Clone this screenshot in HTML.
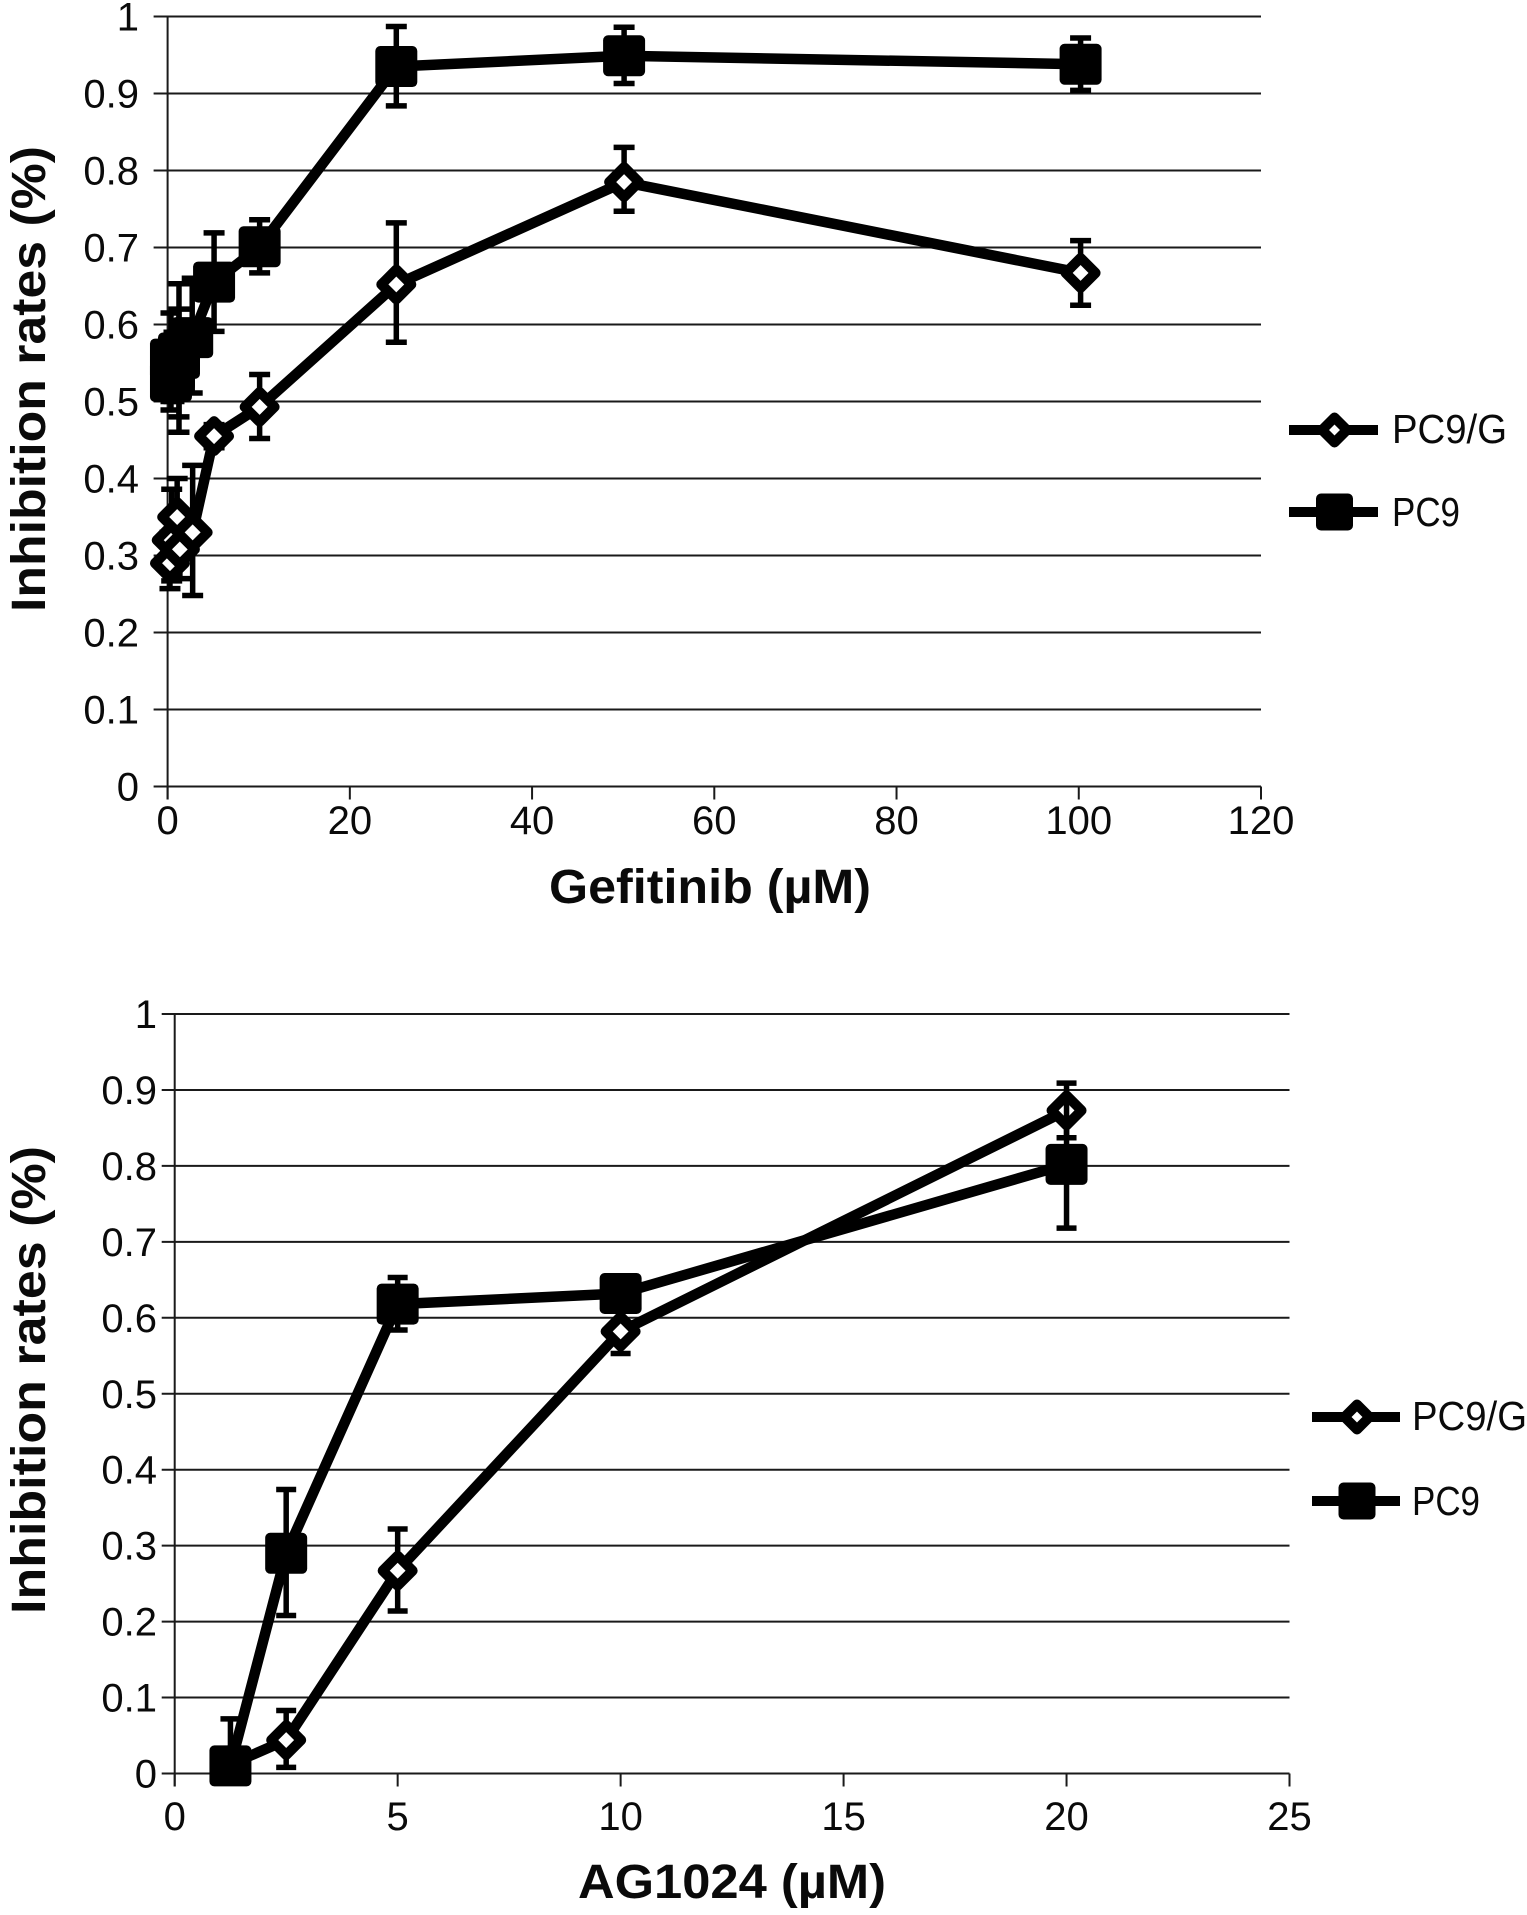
<!DOCTYPE html>
<html lang="en">
<head>
<meta charset="utf-8">
<title>Inhibition rates for Gefitinib and AG1024</title>
<style>
html,body{margin:0;padding:0;background:#fff;}
svg{display:block;}
text{font-family:"Liberation Sans",sans-serif;fill:#0a0a0a;}
</style>
</head>
<body>
<svg id="figure" width="1527" height="1915" viewBox="0 0 1527 1915" xmlns="http://www.w3.org/2000/svg">
  <rect x="0" y="0" width="1527" height="1915" fill="#fff"></rect>
  <g id="chart-a"></g>
  <g id="chart-b"></g>
</svg>
<script>
// shared tick labels
const yTickLabels = [0, 0.1, 0.2, 0.3, 0.4, 0.5, 0.6, 0.7, 0.8, 0.9, 1];
const seriesNames = ['PC9/G', 'PC9'];

// Gefitinib chart
const gefXTicks = [0, 20, 40, 60, 80, 100, 120];
const gefGX = [0.26, 0.45, 1.05, 1.35, 2.75, 5.1, 10.1, 25.1, 50.1, 100.2];
const gefGY = [0.29, 0.32, 0.35, 0.308, 0.33, 0.455, 0.493, 0.652, 0.785, 0.667];
const gefGUpper = [0.33, 0.386, 0.4, 0.35, 0.417, 0.47, 0.535, 0.732, 0.83, 0.709];
const gefGLower = [0.257, 0.267, 0.3, 0.27, 0.248, 0.44, 0.452, 0.577, 0.747, 0.625];
const gefPX = [0.37, 0.37, 0.7, 1.25, 1.25, 2.7, 5.1, 10.1, 25.1, 50.1, 100.2];
const gefPY = [0.526, 0.555, 0.54, 0.563, 0.556, 0.583, 0.655, 0.701, 0.935, 0.949, 0.938];
const gefPUpper = [0.57, 0.615, 0.59, 0.653, 0.62, 0.66, 0.719, 0.736, 0.987, 0.986, 0.972];
const gefPLower = [0.489, 0.5, 0.5, 0.48, 0.46, 0.511, 0.591, 0.667, 0.884, 0.913, 0.904];

// AG1024 chart
const agXTicks = [0, 5, 10, 15, 20, 25];
const agX = [1.25, 2.5, 5, 10, 20];
const agGY = [0.012, 0.044, 0.267, 0.582, 0.873];
const agGUpper = [0.03, 0.083, 0.322, 0.61, 0.909];
const agGLower = [0, 0.008, 0.214, 0.553, 0.837];
const agPY = [0.01, 0.29, 0.618, 0.632, 0.802];
const agPUpper = [0.072, 0.374, 0.653, 0.65, 0.885];
const agPLower = [0, 0.208, 0.584, 0.61, 0.718];

const NS = 'http://www.w3.org/2000/svg';

function make(tag, attrs, parent) {
  const el = document.createElementNS(NS, tag);
  for (const k in attrs) el.setAttribute(k, attrs[k]);
  parent.appendChild(el);
  return el;
}

function addText(parent, str, attrs) {
  const el = make('text', attrs, parent);
  el.textContent = str;
  return el;
}

function linearScale(d0, d1, r0, r1) {
  return function (v) { return r0 + (v - d0) / (d1 - d0) * (r1 - r0); };
}

function drawDiamond(parent, cx, cy, half, sw) {
  const pts = [[cx, cy - half], [cx + half, cy], [cx, cy + half], [cx - half, cy]].map(function (p) { return p.join(','); }).join(' ');
  return make('polygon', { points: pts, fill: '#fff', stroke: '#000', 'stroke-width': sw, 'stroke-linejoin': 'round' }, parent);
}

function drawSquare(parent, cx, cy, halfW, halfH) {
  return make('rect', { x: cx - halfW, y: cy - halfH, width: halfW * 2, height: halfH * 2, rx: 5, ry: 5, fill: '#000' }, parent);
}

function drawAxes(root, sx, sy, xTicks, xMax, opt) {
  const gridLeft = sx(0) - opt.tickOut;
  yTickLabels.forEach(function (v) {
    const grid = make('line', { x1: gridLeft, x2: sx(xMax), y1: sy(v), y2: sy(v), stroke: '#1a1a1a', 'stroke-width': 2 }, root);
    
    
    const label = addText(root, String(v), { x: opt.yLabelX, y: sy(v) + 14, 'text-anchor': 'end', 'font-size': 40 });
    
    
  });
  const yAxis = make('line', { x1: sx(0), x2: sx(0), y1: sy(1), y2: sy(0) + 13, stroke: '#1a1a1a', 'stroke-width': 2 }, root);
  
  
  xTicks.forEach(function (v) {
    const tick = make('line', { x1: sx(v), x2: sx(v), y1: sy(0), y2: sy(0) + 13, stroke: '#1a1a1a', 'stroke-width': 2 }, root);
    
    
    const label = addText(root, String(v), { x: sx(v), y: opt.xLabelY, 'text-anchor': 'middle', 'font-size': 40 });
    
    
  });
}

function drawSeries(root, sx, sy, xs, ys, upper, lower, kind, opt) {
  const g = make('g', {}, root);
  
  
  xs.forEach(function (x, i) {
    const px = sx(x);
    const stem = make('line', { x1: px, x2: px, y1: sy(upper[i]), y2: sy(lower[i]), stroke: '#000', 'stroke-width': 5.5 }, g);
    
    
    const capTop = make('line', { x1: px - opt.cap, x2: px + opt.cap, y1: sy(upper[i]), y2: sy(upper[i]), stroke: '#000', 'stroke-width': 5.5 }, g);
    
    
    const capBottom = make('line', { x1: px - opt.cap, x2: px + opt.cap, y1: sy(lower[i]), y2: sy(lower[i]), stroke: '#000', 'stroke-width': 5.5 }, g);
    
    
  });
  const pts = xs.map(function (x, i) { return sx(x) + ',' + sy(ys[i]); }).join(' ');
  const line = make('polyline', { points: pts, fill: 'none', stroke: '#000', 'stroke-width': 10.5, 'stroke-linejoin': 'round' }, g);
  
  
  xs.forEach(function (x, i) {
    const mark = kind === 'diamond'
      ? drawDiamond(g, sx(x), sy(ys[i]), opt.dHalf, 10)
      : drawSquare(g, sx(x), sy(ys[i]), opt.sHalfW, opt.sHalfH);
    
    
  });
}

function drawLegend(root, opt) {
  const g = make('g', {}, root);
  
  
  const line1 = make('line', { x1: opt.x1, x2: opt.x2, y1: opt.y1, y2: opt.y1, stroke: '#000', 'stroke-width': 10 }, g);
  
  
  const marker1 = drawDiamond(g, (opt.x1 + opt.x2) / 2 + 1, opt.y1, 12.5, 10);
  
  
  const text1 = addText(g, seriesNames[0], { x: opt.tx, y: opt.y1 + 13, 'font-size': 41, textLength: 115, lengthAdjust: 'spacingAndGlyphs' });
  
  
  const line2 = make('line', { x1: opt.x1, x2: opt.x2, y1: opt.y2, y2: opt.y2, stroke: '#000', 'stroke-width': 10 }, g);
  
  
  const marker2 = drawSquare(g, (opt.x1 + opt.x2) / 2 + 1, opt.y2, 18.5, 18.5);
  
  
  const text2 = addText(g, seriesNames[1], { x: opt.tx, y: opt.y2 + 14, 'font-size': 41, textLength: 68, lengthAdjust: 'spacingAndGlyphs' });
  
  
}

function drawTitles(root, xTitle, xOpt, yOpt) {
  const xt = addText(root, xTitle, { x: xOpt.x, y: xOpt.y, 'font-size': 48, 'font-weight': 'bold', textLength: xOpt.len, lengthAdjust: 'spacingAndGlyphs' });
  
  
  const yt = addText(root, 'Inhibition rates (%)', { transform: 'translate(' + yOpt.x + ',' + yOpt.y + ') rotate(-90)', 'font-size': 48, 'font-weight': 'bold', textLength: yOpt.len, lengthAdjust: 'spacingAndGlyphs' });
  
  
}

// Gefitinib chart render
const rootA = document.getElementById('chart-a');
const gefSx = linearScale(0, 120, 167.6, 1261);
const gefSy = linearScale(0, 1, 786.5, 16.5);
const gefMarks = { cap: 10.5, dHalf: 15, sHalfW: 21, sHalfH: 20.5 };
drawAxes(rootA, gefSx, gefSy, gefXTicks, 120, { tickOut: 14, yLabelX: 139, xLabelY: 834 });
drawSeries(rootA, gefSx, gefSy, gefGX, gefGY, gefGUpper, gefGLower, 'diamond', gefMarks);
drawSeries(rootA, gefSx, gefSy, gefPX, gefPY, gefPUpper, gefPLower, 'square', gefMarks);
drawLegend(rootA, { x1: 1289, x2: 1378, y1: 430, y2: 512, tx: 1392 });
drawTitles(rootA, 'Gefitinib (µM)', { x: 549, y: 903, len: 322 }, { x: 45, y: 612, len: 466 });

// AG1024 chart render
const rootB = document.getElementById('chart-b');
const agSx = linearScale(0, 25, 174.7, 1289.5);
const agSy = linearScale(0, 1, 1773.5, 1014);
const agMarks = { cap: 10, dHalf: 15, sHalfW: 21, sHalfH: 20.5 };
drawAxes(rootB, agSx, agSy, agXTicks, 25, { tickOut: 13, yLabelX: 157, xLabelY: 1830 });
drawSeries(rootB, agSx, agSy, agX, agGY, agGUpper, agGLower, 'diamond', agMarks);
drawSeries(rootB, agSx, agSy, agX, agPY, agPUpper, agPLower, 'square', agMarks);
drawLegend(rootB, { x1: 1312, x2: 1400, y1: 1417, y2: 1501, tx: 1412 });
drawTitles(rootB, 'AG1024 (µM)', { x: 578, y: 1898, len: 308 }, { x: 45, y: 1614, len: 468 });
</script>
</body>
</html>
